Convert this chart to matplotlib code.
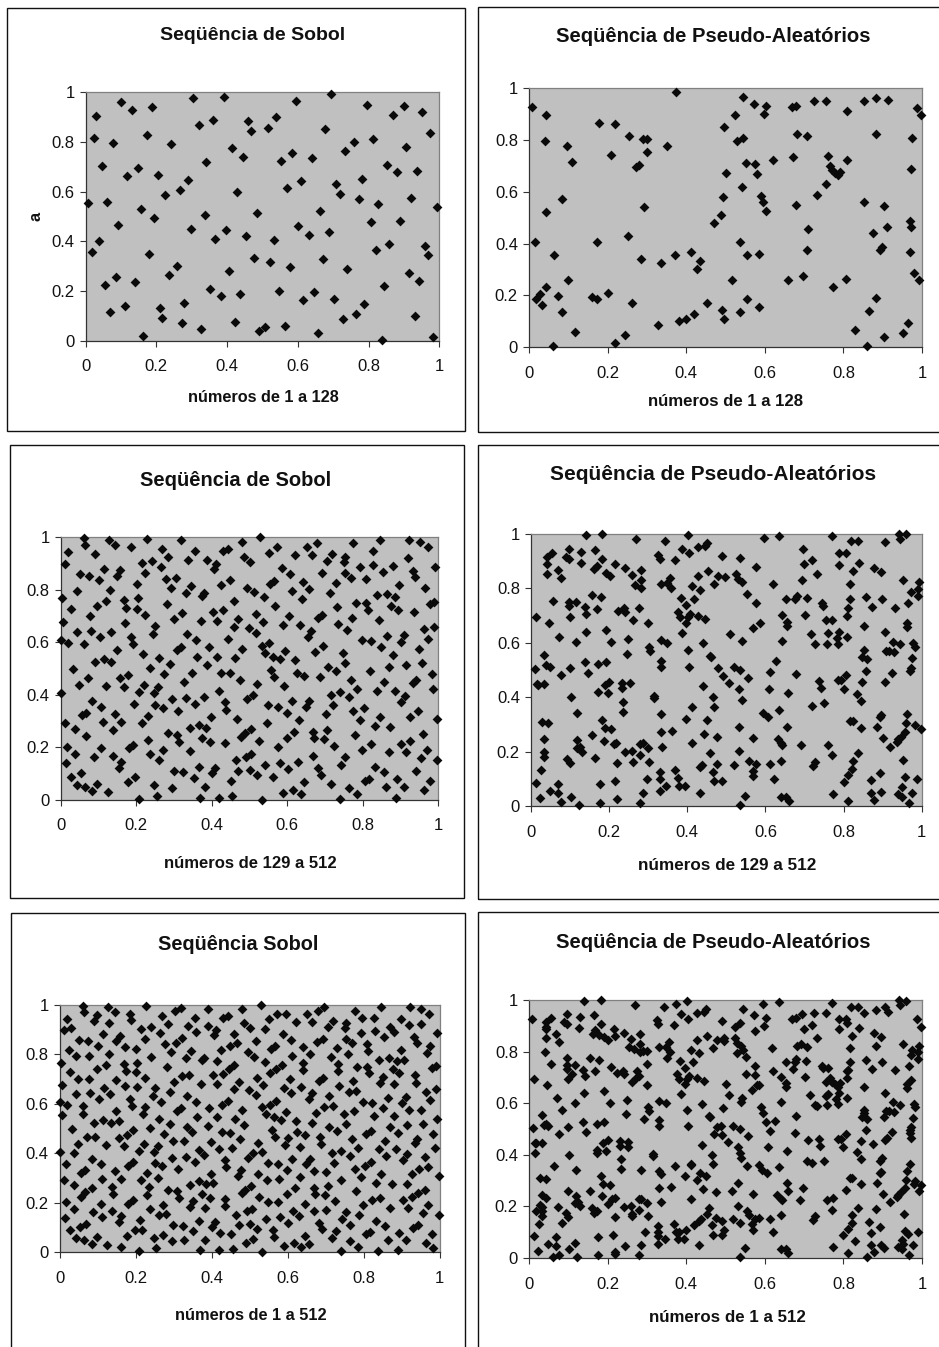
import numpy as np
import matplotlib
matplotlib.use("Agg")
import matplotlib.pyplot as plt
from matplotlib.patches import Rectangle

plt.rcParams['font.family'] = ['Liberation Sans', 'DejaVu Sans']

tick_values = [0, 0.2, 0.4, 0.6, 0.8, 1]
tick_labels = ['0', '0.2', '0.4', '0.6', '0.8', '1']

sobol_1_128 = [(.006,.553),(.017,.356),(.024,.817),(.030,.906),(.037,.400),(.047,.702),(.055,.224),(.061,.560),(.068,.114),(.078,.795),(.086,.258),(.092,.466),(.099,.961),(.110,.141),(.117,.664),(.131,.928),(.140,.235),(.148,.697),(.155,.532),(.162,.020),(.172,.830),(.179,.350),(.187,.940),(.192,.493),(.204,.668),(.210,.130),(.217,.091),(.224,.587),(.235,.263),(.241,.791),(.258,.301),(.266,.608),(.272,.070),(.279,.153),(.289,.647),(.297,.450),(.303,.977),(.321,.867),(.327,.047),(.336,.505),(.341,.718),(.352,.208),(.359,.889),(.366,.411),(.383,.180),(.390,.983),(.397,.444),(.404,.279),(.415,.775),(.421,.075),(.428,.597),(.435,.187),(.446,.741),(.453,.421),(.459,.883),(.467,.846),(.477,.334),(.484,.515),(.490,.038),(.508,.054),(.516,.855),(.522,.317),(.533,.405),(.539,.901),(.547,.201),(.553,.723),(.564,.059),(.570,.613),(.577,.295),(.584,.757),(.595,.965),(.601,.460),(.608,.642),(.615,.164),(.632,.427),(.639,.736),(.646,.196),(.657,.032),(.664,.522),(.670,.329),(.678,.851),(.688,.439),(.695,.993),(.702,.169),(.709,.630),(.719,.592),(.727,.087),(.733,.762),(.740,.290),(.758,.800),(.764,.109),(.774,.570),(.781,.652),(.788,.148),(.795,.949),(.806,.477),(.812,.812),(.820,.366),(.827,.549),(.837,.004),(.844,.220),(.851,.707),(.858,.389),(.868,.910),(.881,.680),(.889,.483),(.899,.944),(.906,.779),(.913,.274),(.920,.576),(.930,.098),(.937,.685),(.944,.240),(.951,.922),(.960,.383),(.968,.345),(.975,.835),(.982,.016),(.993,.537)]

pseudo_1_128 = [(.007,.927),(.014,.406),(.017,.184),(.029,.204),(.033,.164),(.040,.798),(.042,.897),(.042,.521),(.042,.233),(.062,.004),(.064,.356),(.074,.198),(.084,.573),(.084,.134),(.097,.777),(.100,.258),(.110,.714),(.117,.059),(.161,.195),(.173,.184),(.173,.406),(.177,.866),(.200,.209),(.209,.742),(.219,.014),(.219,.861),(.244,.045),(.251,.430),(.254,.817),(.261,.169),(.271,.697),(.281,.704),(.284,.341),(.290,.803),(.300,.803),(.293,.540),(.300,.753),(.329,.084),(.335,.326),(.352,.777),(.371,.356),(.374,.986),(.381,.099),(.400,.108),(.413,.366),(.420,.129),(.427,.302),(.436,.331),(.453,.169),(.472,.481),(.488,.510),(.491,.144),(.494,.580),(.497,.108),(.497,.852),(.500,.674),(.517,.258),(.523,.897),(.529,.796),(.536,.406),(.536,.134),(.542,.619),(.545,.807),(.545,.965),(.551,.713),(.555,.356),(.555,.184),(.572,.941),(.575,.709),(.581,.669),(.584,.361),(.584,.155),(.591,.585),(.595,.561),(.597,.901),(.604,.930),(.604,.526),(.620,.723),(.658,.258),(.668,.927),(.672,.733),(.679,.930),(.679,.550),(.681,.822),(.697,.273),(.707,.817),(.707,.376),(.710,.456),(.724,.951),(.733,.589),(.755,.951),(.755,.629),(.762,.738),(.765,.698),(.772,.684),(.774,.232),(.778,.674),(.785,.664),(.791,.678),(.807,.263),(.810,.912),(.810,.723),(.830,.064),(.852,.951),(.852,.561),(.859,.005),(.866,.139),(.875,.441),(.884,.961),(.884,.822),(.884,.189),(.894,.375),(.897,.387),(.903,.040),(.903,.545),(.910,.465),(.913,.955),(.952,.054),(.965,.094),(.969,.486),(.969,.366),(.972,.465),(.972,.688),(.975,.807),(.979,.287),(.988,.925),(.992,.258),(.998,.896)]

sobol_129_512 = [(.001,.405),(0,.609),(.004,.767),(.007,.676),(.011,.898),(.011,.291),(.013,.139),(.017,.202),(.020,.943),(.020,.596),(.027,.088),(.027,.727),(.033,.498),(.037,.271),(.037,.173),(.042,.056),(.043,.795),(.044,.638),(.049,.438),(.050,.859),(.054,.100),(.057,.321),(.061,.996),(.061,.592),(.064,.971),(.064,.047),(.067,.332),(.067,.241),(.073,.464),(.074,.854),(.078,.700),(.081,.644),(.084,.376),(.084,.032),(.087,.163),(.091,.936),(.091,.524),(.097,.061),(.097,.740),(.101,.836),(.104,.620),(.108,.355),(.108,.196),(.111,.296),(.114,.881),(.114,.535),(.121,.756),(.121,.433),(.125,.029),(.127,.990),(.131,.801),(.132,.640),(.134,.524),(.138,.264),(.138,.168),(.145,.971),(.145,.327),(.148,.571),(.149,.853),(.155,.121),(.156,.463),(.158,.875),(.161,.296),(.161,.145),(.168,.429),(.168,.762),(.171,.672),(.174,.732),(.178,.474),(.178,.066),(.181,.196),(.185,.964),(.185,.621),(.191,.592),(.192,.210),(.194,.365),(.198,.088),(.201,.823),(.204,.767),(.201,.727),(.208,.410),(.208,.003),(.215,.291),(.215,.903),(.218,.557),(.221,.438),(.224,.863),(.224,.704),(.228,.994),(.231,.320),(.231,.229),(.238,.501),(.238,.173),(.241,.910),(.245,.630),(.248,.405),(.248,.056),(.251,.662),(.251,.361),(.254,.015),(.258,.428),(.261,.150),(.261,.540),(.265,.888),(.269,.954),(.270,.349),(.272,.189),(.275,.479),(.278,.842),(.282,.747),(.285,.925),(.285,.253),(.289,.518),(.292,.808),(.295,.043),(.295,.382),(.299,.110),(.301,.689),(.305,.846),(.308,.248),(.308,.569),(.312,.337),(.314,.218),(.319,.581),(.319,.989),(.322,.712),(.324,.105),(.328,.449),(.332,.386),(.332,.787),(.335,.632),(.338,.914),(.342,.273),(.342,.184),(.345,.813),(.348,.484),(.352,.083),(.355,.948),(.355,.365),(.359,.607),(.362,.545),(.366,.286),(.366,.126),(.369,.008),(.372,.681),(.375,.776),(.375,.234),(.379,.787),(.379,.393),(.382,.047),(.386,.274),(.389,.914),(.389,.512),(.392,.581),(.396,.218),(.399,.316),(.401,.100),(.403,.717),(.405,.878),(.409,.122),(.412,.898),(.413,.545),(.415,.681),(.420,.008),(.420,.415),(.424,.818),(.426,.484),(.429,.722),(.431,.948),(.435,.374),(.438,.343),(.436,.215),(.443,.956),(.448,.482),(.449,.836),(.451,.071),(.455,.014),(.458,.756),(.461,.540),(.444,.612),(.458,.659),(.465,.151),(.468,.306),(.471,.689),(.471,.110),(.475,.456),(.479,.240),(.481,.574),(.481,.983),(.485,.926),(.488,.253),(.492,.164),(.495,.808),(.495,.382),(.498,.656),(.502,.907),(.502,.113),(.505,.174),(.509,.399),(.504,.268),(.512,.790),(.517,.637),(.518,.706),(.519,.094),(.521,.440),(.525,.224),(.529,1.0),(.533,0),(.533,.587),(.535,.676),(.539,.771),(.542,.132),(.542,.558),(.546,.291),(.549,.361),(.551,.942),(.553,.597),(.556,.822),(.558,.494),(.562,.088),(.563,.545),(.566,.832),(.566,.466),(.569,.740),(.572,.962),(.575,.355),(.575,.201),(.580,.140),(.582,.536),(.587,.882),(.589,.665),(.590,.025),(.592,.433),(.595,.565),(.599,.332),(.599,.235),(.602,.116),(.605,.700),(.609,.859),(.612,.795),(.612,.376),(.617,.038),(.618,.258),(.622,.933),(.622,.532),(.625,.484),(.629,.145),(.632,.304),(.635,.666),(.636,.020),(.639,.764),(.641,.830),(.645,.066),(.645,.473),(.649,.355),(.652,.964),(.656,.621),(.659,.802),(.659,.376),(.663,.644),(.665,.933),(.668,.258),(.669,.168),(.671,.234),(.675,.564),(.679,.977),(.683,.119),(.686,.466),(.689,.094),(.683,.694),(.692,.863),(.692,.704),(.695,.587),(.699,.231),(.702,.325),(.705,.266),(.706,.910),(.709,.507),(.713,.789),(.716,.399),(.716,.058),(.719,.936),(.723,.361),(.725,.206),(.729,.825),(.730,.490),(.732,.733),(.736,.671),(.739,.410),(.739,.003),(.743,.132),(.747,.558),(.750,.905),(.753,.161),(.753,.520),(.754,.926),(.754,.863),(.760,.647),(.763,.043),(.763,.390),(.769,.456),(.769,.846),(.773,.694),(.776,.977),(.776,.337),(.780,.247),(.783,.751),(.786,.423),(.786,.020),(.792,.304),(.792,.887),(.798,.607),(.799,.189),(.803,.348),(.806,.071),(.809,.841),(.809,.748),(.816,.080),(.815,.723),(.820,.490),(.822,.212),(.822,.604),(.827,.949),(.829,.895),(.832,.281),(.833,.126),(.839,.779),(.839,.415),(.843,.684),(.846,.990),(.846,.316),(.850,.581),(.853,.869),(.856,.450),(.856,.105),(.863,.047),(.864,.625),(.866,.785),(.869,.507),(.870,.180),(.874,.276),(.876,.740),(.880,.551),(.880,.892),(.886,.415),(.887,.774),(.890,.008),(.892,.078),(.893,.723),(.897,.818),(.901,.602),(.903,.371),(.903,.212),(.910,.048),(.913,.395),(.910,.628),(.916,.180),(.915,.513),(.920,.920),(.923,.990),(.926,.224),(.926,.315),(.933,.872),(.936,.717),(.935,.443),(.940,.848),(.941,.456),(.942,.110),(.946,.338),(.950,.574),(.951,.982),(.956,.158),(.957,.520),(.960,.252),(.963,.037),(.963,.649),(.966,.806),(.970,.191),(.973,.962),(.974,.614),(.980,.071),(.983,.479),(.979,.746),(.988,.423),(.990,.752),(.989,.659),(.993,.887),(.997,.309),(.997,.151)]

pseudo_129_512 = [(.009,.503),(.013,.693),(.013,.086),(.015,.447),(.018,.444),(.022,.028),(.026,.132),(.028,.310),(.032,.447),(.033,.553),(.033,.245),(.033,.197),(.033,.181),(.039,.517),(.042,.916),(.042,.889),(.044,.306),(.042,.851),(.046,.671),(.049,.512),(.049,.055),(.055,.929),(.056,.753),(.068,.047),(.069,.081),(.069,.868),(.072,.621),(.076,.836),(.076,.481),(.076,.013),(.090,.913),(.093,.173),(.096,.945),(.096,.906),(.096,.748),(.096,.734),(.099,.159),(.100,.695),(.100,.507),(.103,.399),(.103,.033),(.116,.748),(.116,.601),(.117,.212),(.119,.242),(.119,.343),(.122,.002),(.125,.217),(.130,.200),(.129,.934),(.127,.892),(.137,.729),(.138,.529),(.140,.995),(.140,.640),(.142,.704),(.146,.487),(.156,.261),(.156,.775),(.162,.869),(.165,.940),(.165,.175),(.169,.882),(.169,.723),(.172,.521),(.172,.420),(.176,.012),(.176,.080),(.179,.769),(.183,1.0),(.183,.907),(.183,.316),(.186,.239),(.189,.286),(.189,.444),(.192,.528),(.192,.646),(.192,.857),(.196,.414),(.200,.457),(.202,.846),(.206,.282),(.206,.601),(.212,.228),(.215,.091),(.216,.887),(.219,.159),(.218,.231),(.219,.024),(.223,.717),(.232,.453),(.232,.435),(.235,.346),(.235,.382),(.239,.726),(.241,.873),(.241,.712),(.241,.197),(.246,.559),(.249,.614),(.253,.450),(.259,.202),(.259,.847),(.262,.683),(.262,.163),(.266,.811),(.270,.980),(.276,.726),(.279,.228),(.279,.012),(.279,.187),(.282,.830),(.282,.867),(.282,.799),(.286,.049),(.286,.230),(.296,.100),(.300,.214),(.300,.672),(.302,.163),(.302,.584),(.305,.568),(.315,.395),(.316,.405),(.326,.922),(.329,.907),(.329,.054),(.329,.099),(.329,.124),(.332,.534),(.332,.512),(.332,.816),(.332,.270),(.332,.337),(.332,.610),(.335,.218),(.343,.973),(.346,.075),(.349,.818),(.349,.600),(.356,.836),(.358,.799),(.362,.275),(.369,.132),(.369,.903),(.375,.102),(.376,.712),(.379,.073),(.381,.693),(.383,.765),(.386,.636),(.387,.945),(.394,.073),(.396,.318),(.397,.738),(.398,.673),(.403,.695),(.403,.995),(.403,.573),(.404,.928),(.405,.512),(.407,.705),(.412,.807),(.413,.362),(.413,.230),(.418,.759),(.427,.950),(.427,.846),(.427,.696),(.433,.142),(.433,.049),(.433,.793),(.437,.151),(.439,.597),(.439,.439),(.443,.266),(.446,.687),(.446,.955),(.451,.965),(.451,.316),(.453,.862),(.458,.193),(.458,.551),(.461,.548),(.466,.126),(.466,.399),(.469,.815),(.469,.091),(.469,.365),(.476,.255),(.476,.154),(.479,.507),(.479,.845),(.490,.091),(.490,.919),(.492,.477),(.497,.842),(.506,.450),(.509,.630),(.520,.151),(.520,.512),(.525,.851),(.530,.834),(.533,.203),(.533,.291),(.533,.430),(.536,.909),(.536,.499),(.536,.002),(.539,.821),(.539,.605),(.540,.388),(.549,.038),(.553,.780),(.556,.471),(.559,.166),(.567,.130),(.567,.652),(.569,.110),(.569,.248),(.575,.153),(.575,.744),(.575,.878),(.585,.671),(.593,.340),(.596,.985),(.606,.328),(.613,.153),(.613,.492),(.609,.430),(.619,.815),(.622,.100),(.626,.532),(.636,.991),(.636,.353),(.632,.245),(.640,.230),(.640,.166),(.640,.033),(.642,.703),(.642,.605),(.643,.224),(.653,.759),(.653,.033),(.654,.661),(.654,.677),(.656,.291),(.657,.414),(.660,.018),(.677,.485),(.676,.759),(.680,.771),(.690,.224),(.693,.831),(.695,.944),(.700,.887),(.702,.701),(.706,.765),(.716,.630),(.719,.903),(.719,.368),(.723,.147),(.728,.163),(.728,.594),(.732,.852),(.738,.460),(.741,.435),(.746,.744),(.748,.736),(.750,.377),(.755,.684),(.757,.594),(.759,.224),(.760,.635),(.770,.187),(.770,.683),(.770,.990),(.773,.044),(.782,.616),(.785,.595),(.785,.461),(.789,.886),(.788,.928),(.789,.638),(.793,.463),(.800,.431),(.800,.089),(.806,.481),(.806,.928),(.809,.699),(.810,.622),(.812,.114),(.812,.728),(.812,.018),(.817,.815),(.817,.760),(.817,.312),(.823,.312),(.822,.135),(.823,.165),(.819,.973),(.823,.862),(.835,.411),(.836,.193),(.836,.973),(.839,.892),(.844,.384),(.844,.285),(.846,.455),(.847,.546),(.853,.662),(.853,.574),(.857,.769),(.857,.497),(.859,.539),(.869,.049),(.869,.095),(.872,.732),(.879,.022),(.879,.873),(.886,.291),(.892,.328),(.893,.120),(.896,.858),(.896,.334),(.896,.051),(.899,.759),(.902,.250),(.906,.457),(.905,.971),(.905,.640),(.908,.570),(.916,.570),(.919,.218),(.923,.487),(.927,.603),(.929,.565),(.932,.728),(.936,.236),(.940,.246),(.940,.043),(.942,1.0),(.944,.594),(.945,.979),(.946,.255),(.949,.071),(.949,.033),(.951,.830),(.953,.169),(.956,.273),(.957,.105),(.959,.304),(.959,.998),(.962,.337),(.962,.673),(.962,.659),(.966,.744),(.968,.010),(.970,.496),(.973,.506),(.976,.049),(.976,.542),(.973,.785),(.979,.597),(.983,.585),(.982,.297),(.989,.100),(.990,.772),(.990,.797),(.993,.821),(.997,.282)]

sobol_1_512 = sobol_1_128 + sobol_129_512
pseudo_1_512 = pseudo_1_128 + pseudo_129_512

W, H = 939, 1347
fig = plt.figure(figsize=(W / 100, H / 100), dpi=100, facecolor='white')


def fx(px):
    return px / W


def fy(py):
    return 1 - py / H


panels = [
    dict(data=sobol_1_128, ax=(85.7, 92.3, 439.3, 340.7), frame=(7, 8, 465, 431),
         title='Seqüência de Sobol', tpos=(253, 36), tsize=14,
         label='números de 1 a 128', lpos=(263, 397), lsize=11.7, ylabel='a'),
    dict(data=pseudo_1_128, ax=(529, 88.3, 922, 347), frame=(478, 7, 960, 432),
         title='Seqüência de Pseudo-Aleatórios', tpos=(713, 36), tsize=14.6,
         label='números de 1 a 128', lpos=(726, 401), lsize=12.1),
    dict(data=sobol_129_512, ax=(60.7, 537.3, 438, 799.7), frame=(10, 445, 464, 898),
         title='Seqüência de Sobol', tpos=(236, 481), tsize=14.5,
         label='números de 129 a 512', lpos=(250, 864), lsize=12),
    dict(data=pseudo_129_512, ax=(531, 533.7, 921.7, 806), frame=(478, 445, 960, 899),
         title='Seqüência de Pseudo-Aleatórios', tpos=(713.5, 474), tsize=15,
         label='números de 129 a 512', lpos=(727, 866), lsize=12.3),
    dict(data=sobol_1_512, ax=(59.7, 1005, 439.7, 1252), frame=(10.7, 913, 465, 1370),
         title='Seqüência Sobol', tpos=(238, 945), tsize=14.3,
         label='números de 1 a 512', lpos=(251, 1316), lsize=11.8),
    dict(data=pseudo_1_512, ax=(529, 1000, 922, 1258), frame=(478, 912, 960, 1370),
         title='Seqüência de Pseudo-Aleatórios', tpos=(713, 943), tsize=14.6,
         label='números de 1 a 512', lpos=(727, 1318), lsize=12.2),
]

for p in panels:
    l, t, r, b = p['frame']
    fig.add_artist(Rectangle((fx(l), fy(b)), (r - l) / W, (b - t) / H,
                             transform=fig.transFigure, fill=False,
                             edgecolor='#111111', linewidth=1.0))
    l, t, r, b = p['ax']
    ax = fig.add_axes([fx(l), fy(b), (r - l) / W, (b - t) / H], facecolor='#c0c0c0')
    xs, ys = zip(*p['data'])
    ax.scatter(xs, ys, marker='D', s=25, color='#0a0a0a', linewidths=0,
               clip_on=False, zorder=3)
    ax.set_xlim(0, 1)
    ax.set_ylim(0, 1)
    ax.set_xticks(tick_values, tick_labels)
    ax.set_yticks(tick_values, tick_labels)
    ax.tick_params(axis='x', length=4, width=0.8, color='#333333', pad=9.5,
                   labelsize=12, labelcolor='#111111')
    ax.tick_params(axis='y', length=4, width=0.8, color='#333333', pad=4,
                   labelsize=12, labelcolor='#111111')
    for side in ('left', 'bottom'):
        ax.spines[side].set_color('#333333')
        ax.spines[side].set_linewidth(0.9)
    for side in ('top', 'right'):
        ax.spines[side].set_color('#808080')
        ax.spines[side].set_linewidth(0.9)
    fig.text(fx(p['tpos'][0]), fy(p['tpos'][1]), p['title'], ha='center', va='center',
             fontsize=p['tsize'], fontweight='bold', color='#111111')
    fig.text(fx(p['lpos'][0]), fy(p['lpos'][1]), p['label'], ha='center', va='center',
             fontsize=p['lsize'], fontweight='bold', color='#111111')
    if 'ylabel' in p:
        fig.text(fx(36), fy(216), p['ylabel'], ha='center', va='center', rotation=90,
                 fontsize=p['lsize'], fontweight='bold', color='#111111')

fig.savefig('out.png', dpi=100, facecolor='white')
